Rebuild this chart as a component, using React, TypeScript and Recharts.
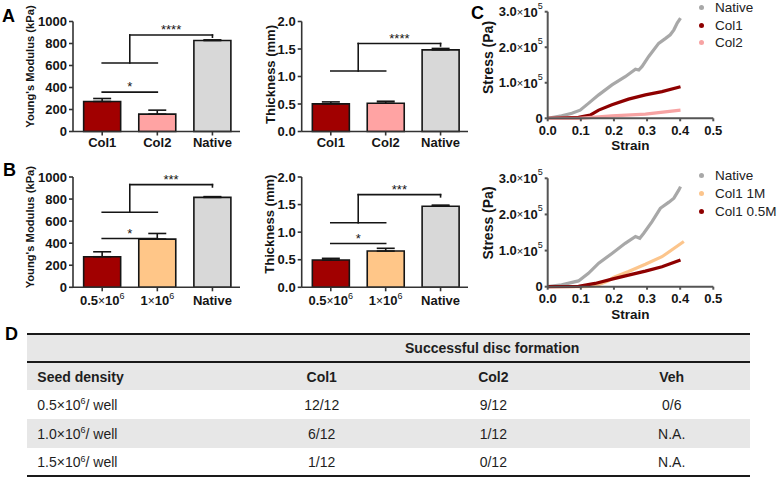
import React from 'react';
import {
    BarChart,
    Bar,
    Cell,
    ErrorBar,
    LineChart,
    Line,
    XAxis,
    YAxis,
    ReferenceLine,
    Legend
} from 'recharts';

const FONT = '"Liberation Sans", Arial, Helvetica, sans-serif';
const INK = '#151515';

// ---- A: Col1 / Col2 / Native ----
const colLabels = ['Col1', 'Col2', 'Native'];
const colColors = ['#a10000', '#ffa3a3', '#d8d8d8'];
const modulusA = [273, 158, 827];
const modulusErrA = [27, 36, 6];
const thickA = [0.503, 0.515, 1.485];
const thickErrA = [0.035, 0.035, 0.025];

// ---- B: seeding density ----
const densityLabels = ['0.5×10^6', '1×10^6', 'Native'];
const densityColors = ['#a10000', '#ffc688', '#d8d8d8'];
const modulusB = [277, 437, 815];
const modulusErrB = [45, 51, 7];
const thickB = [0.495, 0.657, 1.47];
const thickErrB = [0.03, 0.05, 0.02];

const modulusTicks = [0, 200, 400, 600, 800, 1000];
const thickTicks = [0, 0.5, 1, 1.5, 2];

// significance brackets (data units)
type Bracket = { from: number; to: number; y: number; stars: string; top?: number; end?: number; drop?: number };
const bracketsA1: Bracket[] = [
    { from: 1, to: 2, y: 358, stars: '*' },
    { from: 1, to: 2, y: 623, stars: '****', top: 877, end: 3, drop: 857 }
];
const bracketsA2: Bracket[] = [
    { from: 1, to: 2, y: 1.1, stars: '****', top: 1.6, end: 3, drop: 1.555 }
];
const bracketsB1: Bracket[] = [
    { from: 1, to: 2, y: 443, stars: '*' },
    { from: 1, to: 2, y: 681, stars: '***', top: 931, end: 3, drop: 910 }
];
const bracketsB2: Bracket[] = [
    { from: 1, to: 2, y: 0.795, stars: '*' },
    { from: 1, to: 2, y: 1.17, stars: '***', top: 1.68, end: 3, drop: 1.64 }
];

// ---- C: stress-strain curves ----
const strainTicks = [0, 0.1, 0.2, 0.3, 0.4, 0.5];
const stressTicks = [0, 100000, 200000, 300000];

const nativeStrainC1 = [0, 0.042, 0.073, 0.098, 0.123, 0.154, 0.194, 0.234, 0.265, 0.275, 0.285, 0.305, 0.335, 0.356, 0.37, 0.381, 0.391, 0.401];
const nativeStressC1 = [0, 7000, 14000, 23000, 42000, 66000, 94000, 117000, 138000, 136000, 146000, 174000, 211000, 225000, 235000, 249000, 268000, 282000];
const col1StrainC1 = [0, 0.093, 0.128, 0.154, 0.194, 0.244, 0.295, 0.345, 0.401];
const col1StressC1 = [0, 3000, 9000, 23000, 38000, 54000, 66000, 75000, 89000];
const col2StrainC1 = [0, 0.093, 0.194, 0.295, 0.401];
const col2StressC1 = [0, 0, 7000, 12000, 23000];

const nativeStrainC2 = [0, 0.042, 0.093, 0.123, 0.154, 0.194, 0.234, 0.265, 0.278, 0.29, 0.315, 0.34, 0.366, 0.381, 0.396, 0.401];
const nativeStressC2 = [0, 5000, 16000, 37000, 65000, 92000, 120000, 139000, 134000, 148000, 180000, 217000, 234000, 245000, 268000, 277000];
const col1mStrainC2 = [0, 0.113, 0.143, 0.18, 0.2, 0.244, 0.295, 0.345, 0.411];
const col1mStressC2 = [0, 0, 2000, 15000, 26000, 42000, 62000, 83000, 125000];
const col05mStrainC2 = [0, 0.093, 0.143, 0.194, 0.244, 0.295, 0.345, 0.401];
const col05mStressC2 = [0, 1000, 9000, 21000, 32000, 43000, 55000, 74000];

// ---- D: table ----
const seedDensity = ['0.5', '1.0', '1.5'];
const discCol1 = ['12/12', '6/12', '1/12'];
const discCol2 = ['9/12', '1/12', '0/12'];
const discVeh = ['0/6', 'N.A.', 'N.A.'];

const tickStyle = { fontSize: 13, fontWeight: 700, fill: INK, fontFamily: FONT };

const YTitle = ({ viewBox, text, dx = 0, dy = 0, size = 12 }: any) => {
    if (!viewBox) return null;
    const cx = viewBox.x + dx;
    const cy = viewBox.y + viewBox.height / 2 + dy;
    return (
        <text x={cx} y={cy} transform={`rotate(-90 ${cx} ${cy})`} textAnchor="middle" dominantBaseline="central"
            fontSize={size} fontWeight={700} fill={INK} fontFamily={FONT}>{text}</text>
    );
};

const XTitle = ({ viewBox, text, dy = 0 }: any) => {
    if (!viewBox) return null;
    return (
        <text x={viewBox.x + viewBox.width / 2} y={viewBox.y + dy} textAnchor="middle" dominantBaseline="central"
            fontSize={13.5} fontWeight={700} fill={INK} fontFamily={FONT}>{text}</text>
    );
};

const StarLabel = ({ viewBox, stars }: any) => {
    if (!viewBox) return null;
    return (
        <text x={viewBox.x + viewBox.width / 2} y={viewBox.y - 0.7} textAnchor="middle"
            fontSize={13} fill={INK} fontFamily={FONT}>{stars}</text>
    );
};

// category tick with optional "a×10^b" form
const CatTick = ({ x, y, payload, labels }: any) => {
    const label: string = labels[Math.round(payload.value) - 1] ?? '';
    const [base, exp] = label.split('^');
    const parts = base.split('×');
    return (
        <text x={x} y={y} dy="0.71em" textAnchor="middle" fontSize={13} fontWeight={700} fill={INK} fontFamily={FONT}>
            {parts[0]}
            {parts.length > 1 && <tspan fontWeight={400} fontSize={12}>×</tspan>}
            {parts.length > 1 && <tspan>{parts[1]}</tspan>}
            {exp && <tspan dy={-6} fontSize={9} fontWeight={400}>{exp}</tspan>}
        </text>
    );
};

const StressTick = ({ x, y, payload }: any) => {
    const v = payload.value;
    return (
        <text x={x} y={y} textAnchor="end" dominantBaseline="central" fontSize={13} fontWeight={700} fill={INK} fontFamily={FONT}>
            {v === 0 ? '0' : (v / 100000).toFixed(1)}
            {v !== 0 && <tspan fontWeight={400} fontSize={11}>×</tspan>}
            {v !== 0 && <tspan>10</tspan>}
            {v !== 0 && <tspan dy={-6} fontSize={9} fontWeight={400}>5</tspan>}
        </text>
    );
};

const renderBrackets = (list: Bracket[]) => list.flatMap((b, i) => {
    const common = { stroke: INK, strokeWidth: 1.6, strokeLinecap: 'square' as const, ifOverflow: 'visible' as const };
    const starLabel = <StarLabel stars={b.stars} />;
    if (b.top === undefined) {
        return [<ReferenceLine key={`p${i}`} {...common} segment={[{ x: b.from, y: b.y }, { x: b.to, y: b.y }]} label={starLabel} />];
    }
    const mid = (b.from + b.to) / 2;
    return [
        <ReferenceLine key={`b${i}`} {...common} segment={[{ x: b.from, y: b.y }, { x: b.to, y: b.y }]} />,
        <ReferenceLine key={`s${i}`} {...common} segment={[{ x: mid, y: b.y }, { x: mid, y: b.top }]} />,
        <ReferenceLine key={`t${i}`} {...common} segment={[{ x: mid, y: b.top }, { x: b.end, y: b.top }]} label={starLabel} />,
        <ReferenceLine key={`d${i}`} {...common} segment={[{ x: b.end, y: b.top }, { x: b.end, y: b.drop }]} />
    ];
});

const BarPanel = ({ left, top, width, height, plotTop, axisW, axisH, rightPad, labels, values, errors, colors,
    yMax, yTicks, yFmt, title, titleSize, titleDx, titleDy, brackets, xTickMargin }: any) => {
    const data = labels.map((name: string, i: number) => ({ x: i + 1, name, value: values[i], err: [0, errors[i]] }));
    return (
        <div style={{ position: 'absolute', left, top }}>
            <BarChart width={width} height={height} data={data} margin={{ top: plotTop, right: rightPad, bottom: 0, left: 0 }}>
                <XAxis type="number" dataKey="x" domain={[0.47, 3.5]} ticks={[1, 2, 3]} height={axisH}
                    stroke="#333" strokeWidth={1.6} tickSize={4} tickMargin={xTickMargin}
                    tick={(p: any) => <CatTick x={p.x} y={p.y} payload={p.payload} labels={labels} />} />
                <YAxis type="number" domain={[0, yMax]} ticks={yTicks} width={axisW} tickFormatter={yFmt}
                    stroke="#333" strokeWidth={1.6} tickSize={4} tickMargin={2} tick={tickStyle} interval={0}
                    label={<YTitle text={title} size={titleSize} dx={titleDx} dy={titleDy} />} />
                <Bar dataKey="value" barSize={37} stroke={INK} strokeWidth={1.6} isAnimationActive={false}>
                    {data.map((_: any, i: number) => <Cell key={i} fill={colors[i]} />)}
                    <ErrorBar dataKey="err" width={9} stroke={INK} strokeWidth={1.6} direction="y" />
                </Bar>
                {renderBrackets(brackets)}
            </BarChart>
        </div>
    );
};

const StressLegend = ({ payload, order }: any) => {
    const items = [...(payload || [])].sort((a: any, b: any) => order.indexOf(a.value) - order.indexOf(b.value));
    return (
        <div style={{ fontFamily: FONT, fontSize: 13.5, color: '#222' }}>
            {items.map((p: any) => (
                <div key={p.value} style={{ display: 'flex', alignItems: 'center', height: 17.7, whiteSpace: 'nowrap' }}>
                    <span style={{ width: 5, height: 5, borderRadius: '50%', background: p.color, marginRight: 11 }} />
                    <span>{p.value}</span>
                </div>
            ))}
        </div>
    );
};

const toPoints = (strain: number[], stress: number[]) => strain.map((s, i) => ({ strain: s, stress: stress[i] }));

const StressPanel = ({ left, top, width, height, plotTop, axisH, series, legendTop, titleDy }: any) => (
    <div style={{ position: 'absolute', left, top }}>
        <LineChart width={width} height={height} margin={{ top: plotTop, right: 64.7, bottom: 0, left: 0 }}>
            <XAxis type="number" dataKey="strain" domain={[0, 0.5]} ticks={strainTicks} height={axisH}
                tickFormatter={(v: number) => v.toFixed(1)} stroke="#555" strokeWidth={2} tickSize={3} tickMargin={4.5}
                tick={tickStyle} interval={0} label={<XTitle text="Strain" dy={27.5} />} />
            <YAxis type="number" domain={[0, 300000]} ticks={stressTicks} width={67.7} stroke="#555" strokeWidth={2}
                tickSize={3} tickMargin={2} interval={0}
                tick={(p: any) => <StressTick x={p.x} y={p.y} payload={p.payload} />}
                label={<YTitle text="Stress (Pa)" size={14} dx={8} dy={titleDy} />} />
            {series.map((s: any) => (
                <Line key={s.name} name={s.name} data={toPoints(s.strain, s.stress)} dataKey="stress" type="linear"
                    stroke={s.color} strokeWidth={3.2} dot={false} isAnimationActive={false} />
            ))}
            <Legend layout="vertical" align="center" verticalAlign="middle"
                content={<StressLegend order={series.map((s: any) => s.name)} />}
                wrapperStyle={{ left: 219, top: legendTop, width: 'auto' }} />
        </LineChart>
    </div>
);

const Letter = ({ x, y, children }: any) => (
    <text x={x} y={y} fontSize={18} fontWeight={700} fill="#000" fontFamily={FONT}>{children}</text>
);

const cell = (center: number, text: React.ReactNode, bold = false) => (
    <div style={{ position: 'absolute', left: center - 80, width: 160, textAlign: 'center', fontWeight: bold ? 700 : 400 }}>{text}</div>
);

const DiscTable = () => {
    const rows = seedDensity.map((d, i) => ({ d, c1: discCol1[i], c2: discCol2[i], v: discVeh[i] }));
    const rowTops = [390, 419, 447.5];
    const rowH = [29, 28.5, 27];
    const x0 = 27;
    return (
        <div style={{ position: 'absolute', left: 0, top: 0, fontFamily: FONT, fontSize: 14, color: '#1e1e1e' }}>
            <div style={{ position: 'absolute', left: x0, top: 332.5, width: 723, height: 2, background: '#1a1a1a' }} />
            <div style={{ position: 'absolute', left: x0, top: 334.5, width: 723, height: 26.5, background: '#e7e7e7' }} />
            <div style={{ position: 'absolute', left: 405, top: 334.5, height: 26.5, lineHeight: '27px', fontWeight: 700, whiteSpace: 'nowrap' }}>
                Successful disc formation
            </div>
            <div style={{ position: 'absolute', left: x0, top: 361, width: 723, height: 2, background: '#1a1a1a' }} />
            <div style={{ position: 'absolute', left: x0, top: 363, width: 723, height: 27, background: '#e7e7e7', lineHeight: '28px' }}>
                <div style={{ position: 'absolute', left: 10.3, fontWeight: 700, whiteSpace: 'nowrap' }}>Seed density</div>
                {cell(294.7, 'Col1', true)}
                {cell(466.3, 'Col2', true)}
                {cell(644.7, 'Veh', true)}
            </div>
            {rows.map((r, i) => (
                <div key={r.d} style={{ position: 'absolute', left: x0, top: rowTops[i], width: 723, height: rowH[i],
                    background: i === 1 ? '#e7e7e7' : '#fff', lineHeight: `${rowH[i] + 2}px` }}>
                    <div style={{ position: 'absolute', left: 10.3, whiteSpace: 'nowrap' }}>
                        {r.d}×10<sup style={{ fontSize: 9, verticalAlign: 'top', lineHeight: '22px' }}>6</sup>/ well
                    </div>
                    {cell(294.7, r.c1)}
                    {cell(466.3, r.c2)}
                    {cell(644.7, r.v)}
                </div>
            ))}
            <div style={{ position: 'absolute', left: x0, top: 474.5, width: 723, height: 2, background: '#1a1a1a' }} />
        </div>
    );
};

export default function App() {
    const c1Series = [
        { name: 'Native', color: '#a8a8a8', strain: nativeStrainC1, stress: nativeStressC1 },
        { name: 'Col1', color: '#8e0000', strain: col1StrainC1, stress: col1StressC1 },
        { name: 'Col2', color: '#f7a3a3', strain: col2StrainC1, stress: col2StressC1 }
    ];
    const c2Series = [
        { name: 'Native', color: '#a8a8a8', strain: nativeStrainC2, stress: nativeStressC2 },
        { name: 'Col1 1M', color: '#fcc58c', strain: col1mStrainC2, stress: col1mStressC2 },
        { name: 'Col1 0.5M', color: '#8e0000', strain: col05mStrainC2, stress: col05mStressC2 }
    ];
    return (
        <div style={{ position: 'absolute', left: 0, top: 0, width: 778, height: 479, background: '#fff', overflow: 'hidden', fontFamily: FONT }}>
            <BarPanel left={0} top={0} width={250} height={155} plotTop={21.5} axisW={73} axisH={23.5} rightPad={10}
                labels={colLabels} values={modulusA} errors={modulusErrA} colors={colColors}
                yMax={1000} yTicks={modulusTicks} yFmt={(v: number) => String(v)}
                title="Young's Modulus (kPa)" titleSize={11.2} titleDx={30} titleDy={-10} brackets={bracketsA1} xTickMargin={2} />
            <BarPanel left={250} top={0} width={230} height={155} plotTop={21.5} axisW={51.7} axisH={23.5} rightPad={12}
                labels={colLabels} values={thickA} errors={thickErrA} colors={colColors}
                yMax={2} yTicks={thickTicks} yFmt={(v: number) => v.toFixed(1)}
                title="Thickness (mm)" titleSize={13} titleDx={20} titleDy={-2} brackets={bracketsA2} xTickMargin={2} />
            <BarPanel left={0} top={155} width={250} height={160} plotTop={22} axisW={73} axisH={27.7} rightPad={10}
                labels={densityLabels} values={modulusB} errors={modulusErrB} colors={densityColors}
                yMax={1000} yTicks={modulusTicks} yFmt={(v: number) => String(v)}
                title="Young's Modulus (kPa)" titleSize={11.2} titleDx={30} titleDy={-5} brackets={bracketsB1} xTickMargin={4} />
            <BarPanel left={250} top={155} width={230} height={160} plotTop={22} axisW={51.7} axisH={27.7} rightPad={12}
                labels={densityLabels} values={thickB} errors={thickErrB} colors={densityColors}
                yMax={2} yTicks={thickTicks} yFmt={(v: number) => v.toFixed(1)}
                title="Thickness (mm)" titleSize={13} titleDx={20} titleDy={-8} brackets={bracketsB2} xTickMargin={4} />
            <StressPanel left={480} top={0} width={298} height={155} plotTop={11.7} axisH={36.7}
                series={c1Series} legendTop={-1.5} titleDy={-7.5} />
            <StressPanel left={480} top={155} width={298} height={170} plotTop={23.3} axisH={38.3}
                series={c2Series} legendTop={12} titleDy={-9.5} />
            <DiscTable />
            <svg width={778} height={479} style={{ position: 'absolute', left: 0, top: 0, pointerEvents: 'none' }}>
                <Letter x={2} y={21.5}>A</Letter>
                <Letter x={3} y={176}>B</Letter>
                <Letter x={471} y={18.5}>C</Letter>
                <Letter x={5} y={340}>D</Letter>
            </svg>
        </div>
    );
}
